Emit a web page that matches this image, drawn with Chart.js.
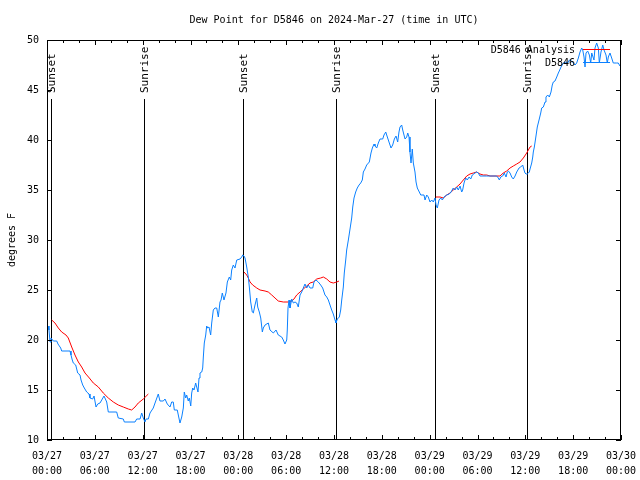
<!DOCTYPE html>
<html><head><meta charset="utf-8">
<script src="https://cdn.jsdelivr.net/npm/chart.js@4/dist/chart.umd.min.js"></script>
<style>html,body{margin:0;padding:0;background:#fff;}canvas{display:block;}</style>
</head><body>
<canvas id="c" width="640" height="480"></canvas>
<script>
const titleText = 'Dew Point for D5846 on 2024-Mar-27 (time in UTC)';
const yAxisLabel = 'degrees F';
const xTickDates = ['03/27','03/27','03/27','03/27','03/28','03/28','03/28','03/28','03/29','03/29','03/29','03/29','03/30'];
const xTickTimes = ['00:00','06:00','12:00','18:00','00:00','06:00','12:00','18:00','00:00','06:00','12:00','18:00','00:00'];
const legendNames = ['D5846 Analysis', 'D5846'];

// observed dew point (hours after 03/27 00:00 UTC, degrees F)
const obsHours = [
 0.13,0.25,0.38,0.50,0.79,1.22,1.38,1.72,1.84,2.89,
 3.01,3.17,3.30,3.60,3.85,4.14,4.27,4.48,4.68,4.98,
 5.27,5.39,5.73,5.90,6.15,6.36,6.65,7.15,7.49,7.69,
 8.74,8.94,9.57,9.70,11.04,11.25,11.67,11.88,12.08,12.29,
 12.42,12.71,12.92,13.33,13.55,13.96,14.17,14.59,14.80,15.09,
 15.43,15.64,15.84,15.97,16.34,16.47,16.68,16.90,17.10,17.22,
 17.40,17.52,17.72,17.85,18.03,18.15,18.28,18.44,18.65,18.78,
 18.94,19.07,19.19,19.41,19.53,19.61,19.73,19.91,20.03,20.16,
 20.32,20.53,20.66,20.86,21.07,21.29,21.49,21.70,21.83,21.99,
 22.20,22.45,22.62,22.87,23.04,23.17,23.37,23.58,23.80,24.21,
 24.42,24.55,24.71,24.84,25.05,25.25,25.38,25.55,25.75,25.88,
 26.09,26.31,26.43,26.63,26.81,27.01,27.13,27.35,27.76,27.97,
 28.39,28.73,29.01,29.44,29.64,29.85,30.07,30.14,30.23,30.36,
 30.48,30.70,30.90,31.11,31.32,31.52,31.74,31.95,32.15,32.36,
 32.58,32.78,32.99,33.33,33.49,33.74,34.03,34.33,34.58,34.87,
 35.09,35.29,35.50,35.71,35.91,36.13,36.25,36.42,36.67,36.84,
 36.97,37.17,37.29,37.47,37.59,37.80,38.22,38.35,38.51,38.72,
 38.92,39.14,39.35,39.55,39.68,39.89,40.10,40.43,40.64,40.81,
 41.02,41.14,41.36,41.56,41.77,42.11,42.27,42.49,42.69,42.94,
 43.15,43.36,43.57,43.78,43.99,44.15,44.28,44.49,44.62,44.78,
 44.91,45.12,45.25,45.41,45.53,45.66,45.82,45.95,46.16,46.29,
 46.45,46.70,46.88,47.29,47.42,47.63,47.83,48.04,48.26,48.46,
 48.67,48.80,48.96,49.17,49.39,49.59,49.80,50.14,50.46,50.68,
 50.96,51.18,51.39,51.59,51.81,52.02,52.14,52.31,52.52,52.72,
 52.94,53.15,53.35,53.69,53.90,54.10,54.31,55.16,56.41,56.61,
 56.74,56.91,57.16,57.36,57.58,57.74,57.87,58.08,58.29,58.49,
 58.71,58.92,59.21,59.42,59.67,59.84,59.96,60.09,60.25,60.38,
 60.50,60.59,60.80,60.93,61.00,61.13,61.30,61.50,61.72,61.93,
 62.05,62.26,62.47,62.59,62.81,63.01,63.22,63.38,63.51,63.72,
 63.94,64.14,64.26,64.48,64.76,65.10,65.32,65.52,65.82,66.02,
 66.23,66.44,66.65,66.86,67.07,67.20,67.36,67.49,67.61,67.82,
 68.03,68.20,68.33,68.61,68.74,68.95,69.16,69.28,69.49,69.71,
 69.87,70.12,70.28,70.41,70.62,70.83,71.03,71.46,71.66,71.87
];
const obsDew = [
 21.4,21.0,19.8,20.2,19.9,19.9,19.6,19.2,18.9,18.9,
 18.5,18.0,17.7,17.5,16.7,16.5,16.0,15.5,15.2,14.8,
 14.6,14.2,14.1,14.4,13.3,13.6,13.7,14.4,13.8,12.8,
 12.8,12.2,12.1,11.8,11.8,12.1,12.1,12.7,12.2,11.8,
 12.1,12.1,12.7,13.2,13.7,14.6,13.9,13.9,14.1,13.6,
 13.3,13.8,13.8,13.0,13.0,12.5,11.7,12.3,13.2,14.8,
 14.2,14.5,13.9,14.2,13.4,14.7,15.2,15.0,15.7,15.3,
 14.8,16.2,16.7,16.8,17.2,18.3,19.7,20.5,21.4,21.2,
 21.3,20.5,21.7,23.0,23.2,23.2,22.3,23.8,24.0,24.7,
 24.0,24.7,25.8,26.3,26.0,27.0,27.5,27.2,28.0,28.1,
 28.3,28.5,28.4,28.2,27.3,26.3,25.3,23.8,22.8,22.7,
 23.5,24.2,23.3,22.8,22.2,20.8,21.2,21.5,21.7,21.0,
 20.7,21.0,20.5,20.3,20.0,19.6,20.0,21.0,23.2,24.0,
 23.2,24.1,23.7,23.8,23.7,23.3,24.5,24.8,25.2,25.6,
 25.2,25.5,25.2,25.2,25.8,26.0,25.8,25.5,25.2,24.5,
 24.3,24.0,23.5,23.0,22.6,22.0,21.7,22.1,22.3,23.0,
 24.0,25.3,26.7,28.0,29.0,30.0,32.2,33.3,34.2,34.8,
 35.2,35.5,35.7,36.0,36.8,37.1,37.5,37.8,38.7,39.2,
 39.6,39.4,39.2,39.7,40.1,40.1,40.5,40.8,40.3,39.7,
 39.2,39.5,40.1,40.4,39.8,40.8,41.3,41.5,41.0,40.5,
 40.1,40.3,40.7,40.3,38.8,37.7,39.1,37.7,36.8,35.8,
 35.2,34.8,34.5,34.5,34.0,34.5,34.3,33.8,34.0,33.8,
 34.2,33.5,33.2,34.0,34.2,34.0,34.3,34.5,34.6,34.8,
 35.2,35.0,35.3,35.0,35.4,34.8,35.0,35.7,36.2,36.0,
 36.3,36.1,36.5,36.7,36.8,36.7,36.4,36.4,36.4,36.2,
 36.0,36.3,36.4,36.7,36.3,36.8,36.9,36.7,36.3,36.1,
 36.4,36.8,37.2,37.3,37.5,37.0,36.7,36.6,36.6,36.7,
 36.8,37.1,37.7,38.3,38.8,39.3,40.2,41.3,42.0,42.7,
 43.2,43.3,43.8,44.3,44.5,44.3,44.8,45.5,45.8,45.9,
 46.3,46.7,46.9,47.3,47.7,47.8,47.7,48.0,47.9,47.7,
 47.5,47.7,48.2,48.8,49.2,49.0,48.3,47.3,48.7,48.9,
 48.5,47.7,48.7,48.0,49.2,49.7,49.2,47.7,48.8,49.5,
 49.0,48.5,47.7,48.3,48.7,48.2,47.7,47.7,47.7,47.4
];

// analysis dew point (null = gap between night segments)
const anaHours = [
 0.59,1.00,1.42,1.84,2.38,2.67,3.10,3.51,3.93,4.35,
 4.77,5.31,5.81,6.44,7.06,7.69,8.32,8.94,9.57,10.20,
 10.62,11.04,11.45,12.08,12.71,
 18.0,
 24.71,25.05,25.25,25.47,25.80,26.31,26.72,27.35,27.76,28.19,
 28.60,29.01,29.64,30.27,30.70,30.98,31.32,31.74,32.15,32.58,
 32.99,33.40,33.83,34.33,34.66,35.09,35.50,35.91,36.34,36.63,
 42.0,
 48.76,49.30,49.71,50.14,50.55,50.96,51.39,51.81,52.22,52.65,
 53.06,53.48,53.90,54.31,54.73,55.16,55.57,56.82,57.23,57.66,
 58.08,58.49,58.92,59.33,59.75,60.17,60.59,60.80
];
const anaDew = [
 22.0,21.7,21.2,20.8,20.5,20.2,19.3,18.5,17.8,17.3,
 16.7,16.2,15.7,15.3,14.7,14.2,13.8,13.5,13.3,13.1,
 13.0,13.3,13.7,14.1,14.6,
 null,
 26.8,26.5,26.2,25.8,25.5,25.2,25.0,24.9,24.8,24.5,
 24.2,23.9,23.8,23.8,23.9,24.1,24.5,24.8,25.1,25.4,
 25.7,25.8,26.1,26.2,26.3,26.1,25.8,25.7,25.8,25.9,
 null,
 34.3,34.3,34.2,34.5,34.7,35.0,35.3,35.6,36.0,36.4,
 36.6,36.7,36.8,36.6,36.5,36.5,36.4,36.4,36.7,36.9,
 37.2,37.4,37.6,37.8,38.2,38.7,39.3,39.4
];

const sunHours = [0.50, 12.17, 24.59, 36.25, 48.67, 60.25];
const sunLabels = ['Sunset', 'Sunrise', 'Sunset', 'Sunrise', 'Sunset', 'Sunrise'];

const FONT = 'DejaVu Sans Mono';
const BLUE = '#0a80ff';
const RED = '#ff0000';

const obsData = obsHours.map((h, i) => ({x: h, y: obsDew[i]}));
const anaData = anaHours.map((h, i) => ({x: h, y: anaDew[i]}));

const decorPlugin = {
  id: 'decor',
  beforeDatasetsDraw(chart) {
    const {ctx, chartArea: a, scales: {x}} = chart;
    ctx.save();
    ctx.strokeStyle = '#000';
    ctx.lineWidth = 1;
    ctx.fillStyle = '#000';
    ctx.font = '11px "' + FONT + '"';
    sunHours.forEach((h, i) => {
      const px = Math.round(x.getPixelForValue(h)) + 0.5;
      ctx.beginPath();
      ctx.moveTo(px, 99);
      ctx.lineTo(px, a.bottom);
      ctx.stroke();
      ctx.save();
      ctx.translate(px + 1, 93);
      ctx.rotate(-Math.PI / 2);
      ctx.textAlign = 'left';
      ctx.textBaseline = 'middle';
      ctx.fillText(sunLabels[i], 0, 0);
      ctx.restore();
    });
    ctx.restore();
  },
  afterDraw(chart) {
    const {ctx, chartArea: a, scales: {x, y}} = chart;
    ctx.save();
    ctx.strokeStyle = '#000';
    ctx.lineWidth = 1;
    // frame
    ctx.strokeRect(a.left + 0.5, a.top + 0.5, a.right - a.left - 1, a.bottom - a.top - 1);
    // x ticks (inward, mirrored)
    ctx.beginPath();
    for (let v = x.min; v <= x.max + 1e-9; v += 2) {
      const px = Math.round(x.getPixelForValue(v)) + 0.5;
      const len = (Math.round(v) % 6 === 0) ? 5 : 3;
      ctx.moveTo(px, a.bottom); ctx.lineTo(px, a.bottom - len);
      ctx.moveTo(px, a.top); ctx.lineTo(px, a.top + len);
    }
    // y ticks
    for (let v = y.min; v <= y.max + 1e-9; v += 5) {
      const py = Math.round(y.getPixelForValue(v)) + 0.5;
      ctx.moveTo(a.left, py); ctx.lineTo(a.left + 5, py);
      ctx.moveTo(a.right, py); ctx.lineTo(a.right - 5, py);
    }
    ctx.stroke();
    // title
    ctx.fillStyle = '#000';
    ctx.font = '10px "' + FONT + '"';
    ctx.textAlign = 'center';
    ctx.textBaseline = 'middle';
    ctx.fillText(titleText, (a.left + a.right) / 2, 20);
    // legend
    ctx.textAlign = 'right';
    const colors = [RED, BLUE];
    legendNames.forEach((name, i) => {
      const ly = 50 + i * 13;
      ctx.fillStyle = '#000';
      ctx.fillText(name, 575, ly);
      ctx.strokeStyle = colors[i];
      ctx.beginPath();
      ctx.moveTo(583, ly - 0.5);
      ctx.lineTo(610, ly - 0.5);
      ctx.stroke();
    });
    ctx.restore();
  }
};

new Chart(document.getElementById('c'), {
  type: 'line',
  data: {
    datasets: [
      {label: legendNames[1], data: obsData, borderColor: BLUE, borderWidth: 1, pointRadius: 0, fill: false, tension: 0},
      {label: legendNames[0], data: anaData, borderColor: RED, borderWidth: 1, pointRadius: 0, fill: false, tension: 0, spanGaps: false}
    ]
  },
  options: {
    responsive: false,
    animation: false,
    devicePixelRatio: 1,
    layout: {padding: {top: 40, right: 19, left: 0, bottom: 0}},
    plugins: {legend: {display: false}, tooltip: {enabled: false}, title: {display: false}},
    scales: {
      x: {
        type: 'linear', min: 0, max: 72,
        grid: {display: false, drawTicks: false},
        border: {display: false},
        ticks: {
          stepSize: 6, autoSkip: false, maxRotation: 0, padding: 9, color: '#000',
          font: {family: FONT, size: 10, lineHeight: 1.5},
          callback: (v) => { const i = Math.round(v / 6); return [xTickDates[i], xTickTimes[i]]; }
        },
        afterFit: (s) => { s.height = 40; s.paddingLeft = 0; s.paddingRight = 0; }
      },
      y: {
        min: 10, max: 50,
        grid: {display: false, drawTicks: false},
        border: {display: false},
        ticks: {stepSize: 5, padding: 8, color: '#000', font: {family: FONT, size: 10}},
        title: {display: true, text: yAxisLabel, color: '#000', font: {family: FONT, size: 10}, padding: {top: 6, bottom: 0}},
        afterFit: (s) => { s.width = 47; s.paddingTop = 0; s.paddingBottom = 0; }
      }
    }
  },
  plugins: [decorPlugin]
});
</script>
</body></html>
